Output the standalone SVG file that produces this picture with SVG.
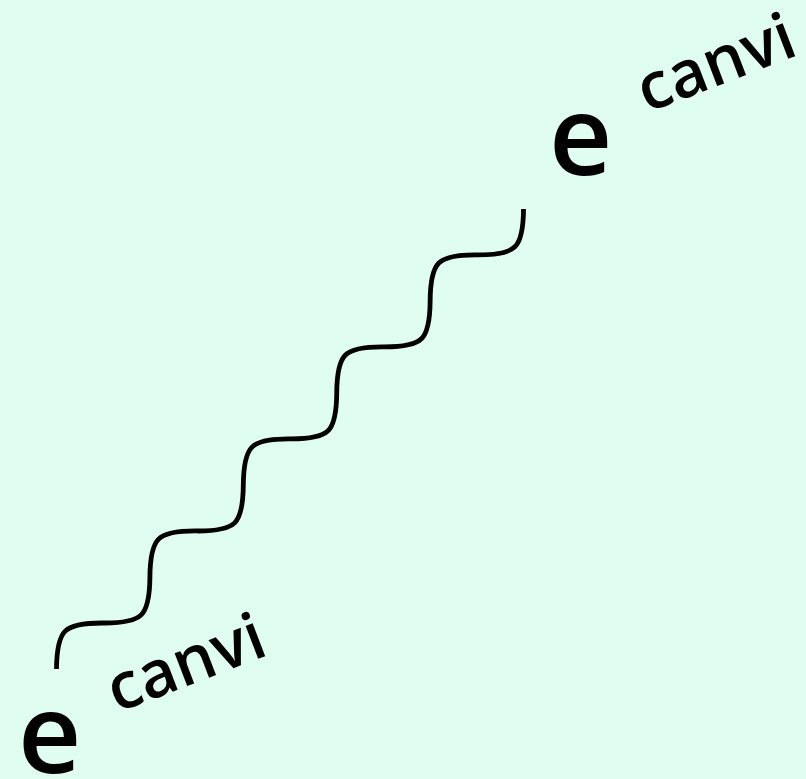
<svg xmlns="http://www.w3.org/2000/svg" width="806" height="779" viewBox="0 0 806 779">
  <style>
    .e { font-family: "Open Sans", "DejaVu Sans", sans-serif; font-size: 110px; font-weight: 600; fill: #000; }
    .lbl { font-family: "Open Sans", "DejaVu Sans", sans-serif; font-size: 65px; font-weight: 600; fill: #000; }
    .wave { fill: none; stroke: #000; stroke-width: 4.8; stroke-linecap: butt; stroke-linejoin: round; }
  </style>
  <rect x="0" y="0" width="806" height="779" fill="#dffdf1"/>
  <g id="connectors">
    <path class="wave" transform="translate(56.5,669) rotate(-44.57)" d="M0,0
      c10.69,-10.69 22.65,-20.87 32.78,-20.87 c10.13,0 22.09,10.18 32.78,20.87 c10.69,10.69 22.65,20.87 32.78,20.87 c10.13,0 22.09,-10.18 32.78,-20.87
      c10.69,-10.69 22.65,-20.87 32.78,-20.87 c10.13,0 22.09,10.18 32.78,20.87 c10.69,10.69 22.65,20.87 32.78,20.87 c10.13,0 22.09,-10.18 32.78,-20.87
      c10.69,-10.69 22.65,-20.87 32.78,-20.87 c10.13,0 22.09,10.18 32.78,20.87 c10.69,10.69 22.65,20.87 32.78,20.87 c10.13,0 22.09,-10.18 32.78,-20.87
      c10.69,-10.69 22.65,-20.87 32.78,-20.87 c10.13,0 22.09,10.18 32.78,20.87 c10.69,10.69 22.65,20.87 32.78,20.87 c10.13,0 22.09,-10.18 32.78,-20.87
      c10.69,-10.69 22.65,-20.87 32.78,-20.87 c10.13,0 22.09,10.18 32.78,20.87 c10.69,10.69 22.65,20.87 32.78,20.87 c10.13,0 22.09,-10.18 32.78,-20.87"/>
  </g>
  <g id="node-e1">
    <text class="e" x="18" y="773">e</text>
  </g>
  <g id="label-canvi1">
    <text class="lbl" transform="translate(117,713) rotate(-21)">canvi</text>
  </g>
  <g id="node-e2">
    <text class="e" x="549" y="175">e</text>
  </g>
  <g id="label-canvi2">
    <text class="lbl" transform="translate(647,113) rotate(-21)">canvi</text>
  </g>
</svg>
